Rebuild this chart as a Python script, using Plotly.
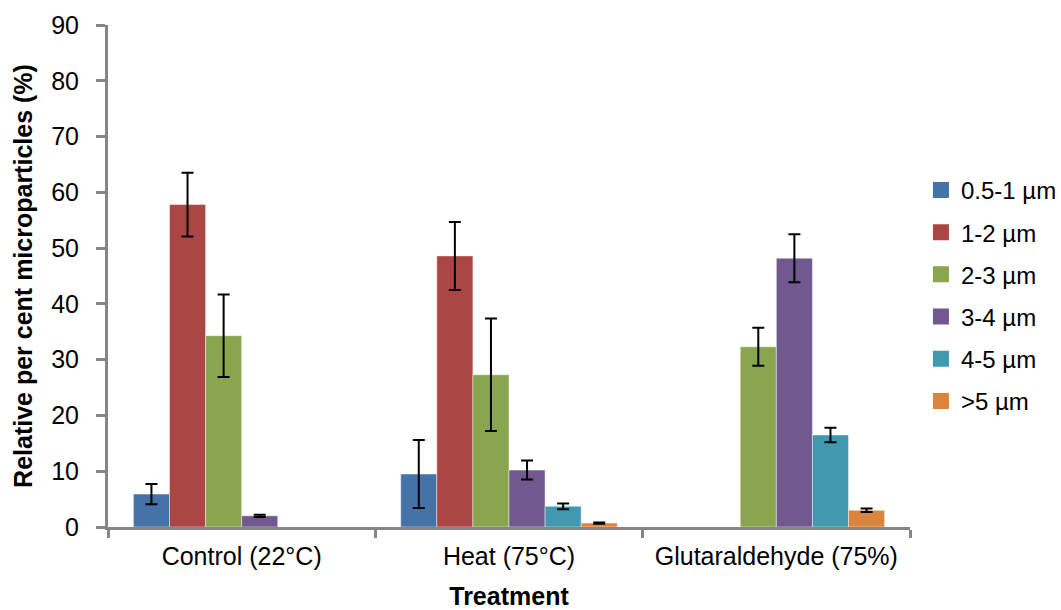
import plotly.graph_objects as go

treatments = ["Control (22°C)", "Heat (75°C)", "Glutaraldehyde (75%)"]
size_classes = ["0.5-1 µm", "1-2 µm", "2-3 µm", "3-4 µm", "4-5 µm", ">5 µm"]
colors = ["#4572A7", "#AA4643", "#89A54E", "#71588F", "#4198AF", "#DB843D"]

# Mean relative percentage per size class (order follows treatments); None = not detected
mean_05_1 = [5.9, 9.5, None]
mean_1_2 = [57.8, 48.6, None]
mean_2_3 = [34.3, 27.3, 32.3]
mean_3_4 = [2.0, 10.2, 48.2]
mean_4_5 = [None, 3.7, 16.5]
mean_gt5 = [None, 0.7, 3.0]

# Error bar half-widths
err_05_1 = [1.8, 6.1, None]
err_1_2 = [5.7, 6.1, None]
err_2_3 = [7.4, 10.1, 3.4]
err_3_4 = [0.2, 1.7, 4.3]
err_4_5 = [None, 0.5, 1.3]
err_gt5 = [None, 0.1, 0.3]

means = [mean_05_1, mean_1_2, mean_2_3, mean_3_4, mean_4_5, mean_gt5]
errs = [err_05_1, err_1_2, err_2_3, err_3_4, err_4_5, err_gt5]

FONT = "Liberation Sans, Arial, sans-serif"
axis_grey = "#868686"

fig = go.Figure()
for name, color, m, e in zip(size_classes, colors, means, errs):
    fig.add_trace(go.Bar(
        name=name,
        x=treatments,
        y=m,
        showlegend=False,
        marker=dict(color=color, line=dict(color="rgba(255,255,255,0.45)", width=1)),
        error_y=dict(type="data", array=e, visible=True,
                     color="black", thickness=2, width=6),
    ))

# Legend entries with larger square swatches
for name, color in zip(size_classes, colors):
    fig.add_trace(go.Scatter(
        name=name, x=[None], y=[None], mode="markers",
        legendgroup=name,
        marker=dict(symbol="square", size=16, color=color),
    ))

fig.update_layout(
    template="none",
    width=1061,
    height=610,
    margin=dict(l=108, r=151, t=25, b=83),
    paper_bgcolor="white",
    plot_bgcolor="white",
    barmode="group",
    bargap=0.19,
    bargroupgap=0,
    font=dict(family=FONT, size=25, color="black"),
    legend=dict(
        xref="container", yref="container",
        x=0.868, y=0.515, xanchor="left", yanchor="middle",
        font=dict(size=24),
        tracegroupgap=8,
        itemwidth=30,
        bgcolor="rgba(0,0,0,0)",
    ),
    xaxis=dict(
        title=dict(text="<b>Treatment</b>", font=dict(size=25), standoff=20),
        showline=True, linecolor=axis_grey, linewidth=3,
        ticks="outside", tickson="boundaries", ticklen=8, tickwidth=3, tickcolor=axis_grey,
        ticklabelstandoff=5,
        showgrid=False, automargin=False,
        tickfont=dict(size=25),
    ),
    yaxis=dict(
        title=dict(text="<b>Relative per cent microparticles (%)</b>", font=dict(size=25), standoff=12),
        range=[0, 90], dtick=10,
        showline=True, linecolor=axis_grey, linewidth=3,
        ticks="outside", ticklen=9, tickwidth=3, tickcolor=axis_grey,
        ticklabelstandoff=12,
        showgrid=False, zeroline=False, automargin=False,
        tickfont=dict(size=25),
    ),
)

fig.write_html("out.html")
